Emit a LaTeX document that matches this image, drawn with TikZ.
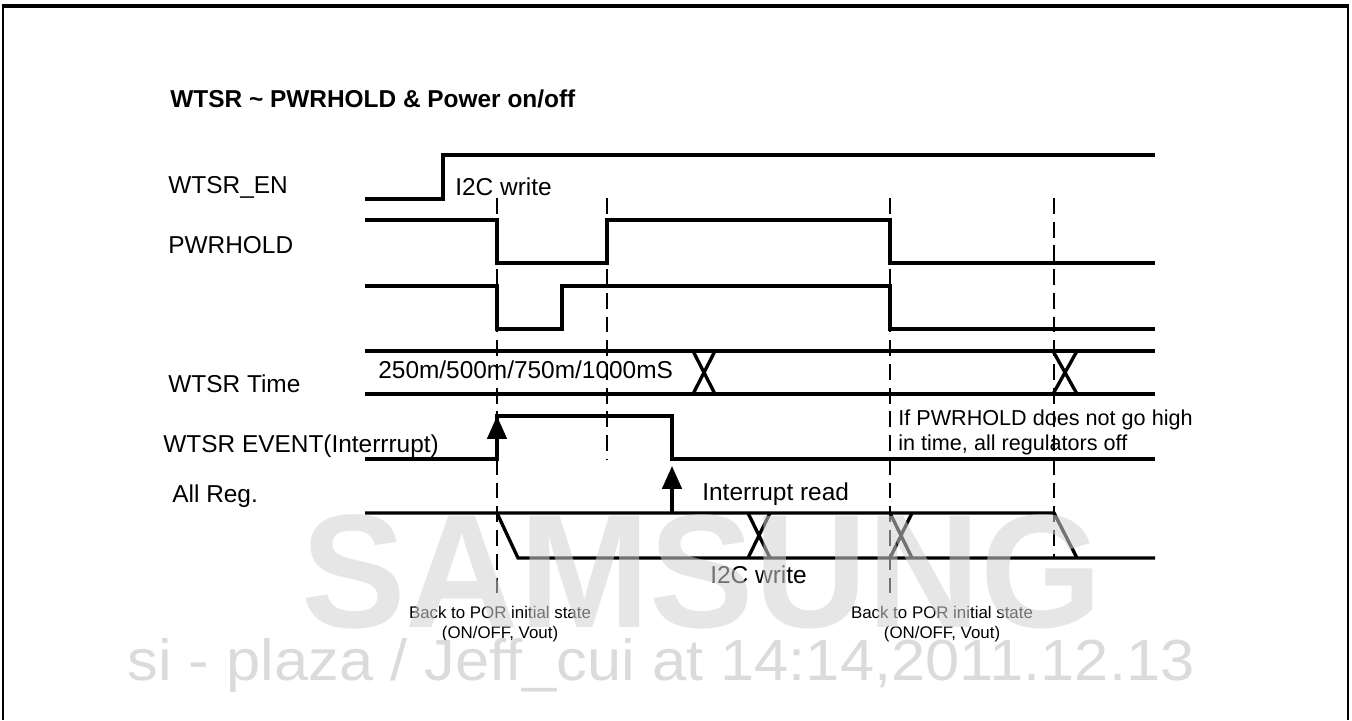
\documentclass[tikz,border=0pt]{standalone}
\usepackage{fontspec}
\setmainfont{Liberation Sans}
\usetikzlibrary{arrows.meta}

\begin{document}
\begin{tikzpicture}[x=0.02cm,y=-0.02cm,
	sig/.style={line width=1.9pt},
	guide/.style={line width=0.85pt,dash pattern=on 9pt off 4.5pt},
	txt/.style={inner sep=0,anchor=base west,font=\fontsize{13.9}{16}\selectfont},
	note/.style={inner sep=0,anchor=base west,align=left,font=\fontsize{12.3}{14.2}\selectfont},
	por/.style={inner sep=0,anchor=base,align=center,font=\fontsize{9.6}{11.3}\selectfont},
	up/.style={sig,-{Triangle[length=13pt,width=11pt]}}]
	\useasboundingbox (0,0) rectangle (1352,720);
	% frame
	\draw[line width=1.8pt] (2,6) -- (1349,6);
	\draw[line width=0.9pt] (3,6) -- (3,720);
	\draw[line width=0.9pt] (1348,6) -- (1348,720);
	% title and signal names
	\node[txt,font=\bfseries\fontsize{13.9}{16}\selectfont] (ttl) at (170,107) {WTSR \textasciitilde{} PWRHOLD \& Power on/off};
	\node[txt] (en) at (168,193) {WTSR\_EN};
	\node[txt] (pwr) at (168,253) {PWRHOLD};
	\node[txt] (wtime) at (168,392) {WTSR Time};
	\node[txt] (evt) at (163,452) {WTSR EVENT(Interrrupt)};
	\node[txt] (allreg) at (172,502) {All Reg.};
	% guides
	\draw[guide] (497,198) -- (497,600);
	\draw[guide] (607,198) -- (607,460);
	\draw[guide] (890,198) -- (890,600);
	\draw[guide] (1054,198) -- (1054,558);
	% WTSR_EN
	\draw[sig] (365,199) -- (443,199) -- (443,155) -- (1155,155);
	\node[txt] (i2ca) at (455,195) {I2C write};
	% PWRHOLD
	\draw[sig] (365,220) -- (497,220) -- (497,263) -- (607,263) -- (607,220) -- (890,220) -- (890,263) -- (1155,263);
	% unnamed
	\draw[sig] (365,286) -- (497,286) -- (497,329) -- (562,329) -- (562,286) -- (890,286) -- (890,329) -- (1155,329);
	% WTSR Time
	\draw[sig] (365,351) -- (1155,351);
	\draw[sig] (365,394) -- (1155,394);
	\draw[sig] (693,351) -- (715,394) (693,394) -- (715,351);
	\draw[sig] (1053,351) -- (1077,394) (1053,394) -- (1077,351);
	\node[txt] (tval) at (378,378) {250m/500m/750m/1000mS};
	% WTSR EVENT
	\draw[sig] (365,459) -- (497,459) -- (497,416) -- (672,416) -- (672,459) -- (1155,459);
	\coordinate (e0) at (497,459);
	\coordinate (e1) at (497,416);
	\draw[up] (e0) -- (e1);
	\coordinate (r0) at (672,513);
	\coordinate (r1) at (672,466);
	\draw[up] (r0) -- (r1);
	\node[txt] (iread) at (702,500) {Interrupt read};
	\node[note] (hint) at (898,450) {If PWRHOLD does not go high\\in time, all regulators off};
	% All Reg.
	\draw[sig] (365,513) -- (1054,513) -- (1077,558);
	\draw[sig] (497,513) -- (518,558) -- (1155,558);
	\draw[sig] (748,513) -- (770,558) (748,558) -- (770,513);
	\draw[sig] (890,513) -- (912,558) (890,558) -- (912,513);
	\node[txt] (i2cb) at (710,583) {I2C write};
	\node[por] (por1) at (500,638) {Back to POR initial state\\(ON/OFF, Vout)};
	\node[por] (por2) at (942,638) {Back to POR initial state\\(ON/OFF, Vout)};
	% watermarks
	\node[inner sep=0,anchor=base,text=black!18,opacity=0.55,xscale=0.97,font=\bfseries\fontsize{92}{92}\selectfont] (wm1) at (702,627) {SAMSUNG};
	\node[inner sep=0,anchor=base,text=black!14,xscale=1.06,font=\fontsize{33}{33}\selectfont] (wm2) at (661,680) {si - plaza / Jeff\_cui at 14:14,2011.12.13};
\end{tikzpicture}
\end{document}
